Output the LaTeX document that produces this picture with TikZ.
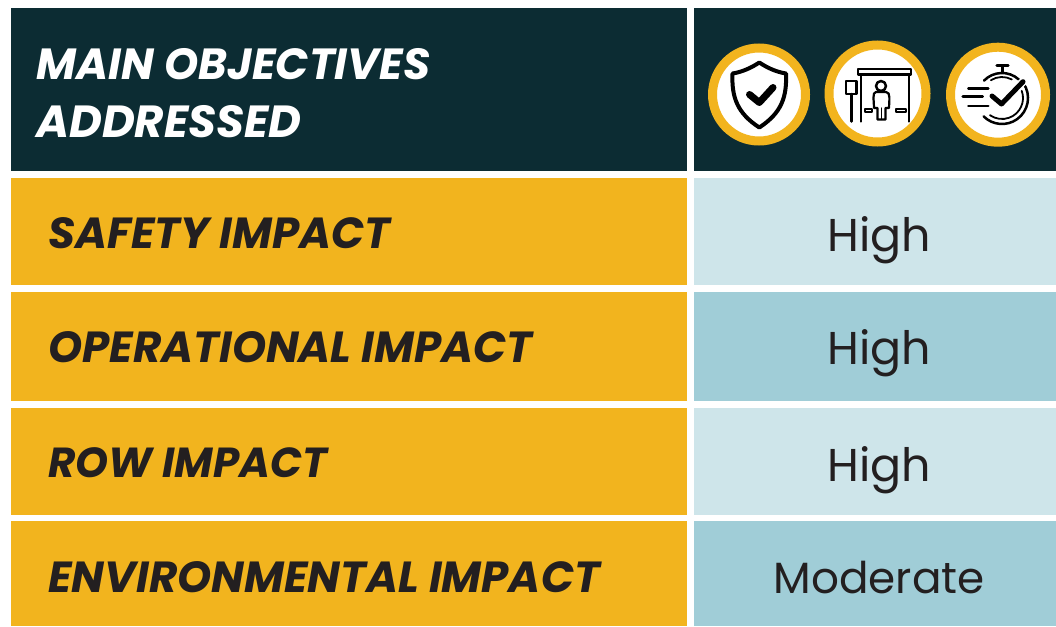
\documentclass[tikz,border=0pt]{standalone}
\usepackage{fontspec}
\setmainfont{Poppins}
\definecolor{navy}{HTML}{0C2C33}
\definecolor{gold}{HTML}{F2B41E}
\definecolor{paleblue}{HTML}{CEE5EA}
\definecolor{midblue}{HTML}{A0CDD7}
\definecolor{ink}{HTML}{231F20}
\tikzset{
  cell/.style={inner sep=0pt,outer sep=0pt,anchor=north west},
  headtext/.style={text=white,font=\fontsize{43.6}{58}\selectfont\bfseries\itshape,align=left,anchor=west,inner sep=0pt},
  rowtext/.style={text=ink,font=\fontsize{43.5}{44}\selectfont\bfseries\itshape,anchor=west,inner sep=0pt},
  valtext/.style={text=ink,font=\fontsize{46}{46}\selectfont,anchor=center,inner sep=0pt},
  ring/.style={circle,draw=gold,fill=white,line width=9pt,inner sep=0pt},
  ico/.style={draw=black,line width=2.5pt,line cap=round,line join=round},
}
\begin{document}
\begin{tikzpicture}[x=1pt,y=-1pt]
\useasboundingbox (0,0) rectangle (1056,626);
\fill[white] (0,0) rectangle (1056,626);
\node[cell,fill=navy,minimum width=676pt,minimum height=163pt] (hl) at (11,8) {};
\node[cell,fill=navy,minimum width=362pt,minimum height=163pt] (hr) at (694,8) {};
\node[cell,fill=gold,minimum width=676pt,minimum height=107pt] (a1) at (11,178) {};
\node[cell,fill=gold,minimum width=676pt,minimum height=109pt] (a2) at (11,292) {};
\node[cell,fill=gold,minimum width=676pt,minimum height=107pt] (a3) at (11,408) {};
\node[cell,fill=gold,minimum width=676pt,minimum height=105pt] (a4) at (11,521) {};
\node[cell,fill=paleblue,minimum width=362pt,minimum height=107pt] (b1) at (694,178) {};
\node[cell,fill=midblue,minimum width=362pt,minimum height=109pt] (b2) at (694,292) {};
\node[cell,fill=paleblue,minimum width=362pt,minimum height=107pt] (b3) at (694,408) {};
\node[cell,fill=midblue,minimum width=362pt,minimum height=105pt] (b4) at (694,521) {};
\node[headtext] (t0a) at (36,64) {MAIN OBJECTIVES};
\node[headtext,font=\fontsize{45}{58}\selectfont\bfseries\itshape] (t0b) at (36,122) {ADDRESSED};
\node[rowtext] (t1) at (48,233) {SAFETY IMPACT};
\node[rowtext] (t2) at (48,347) {OPERATIONAL IMPACT};
\node[rowtext,font=\fontsize{42}{44}\selectfont\bfseries\itshape] (t3) at (48,463) {ROW IMPACT};
\node[rowtext] (t4) at (48,577) {ENVIRONMENTAL IMPACT};
\node[valtext] (v1) at (879,240) {High};
\node[valtext] (v2) at (879,353) {High};
\node[valtext] (v3) at (879,470) {High};
\node[valtext,font=\fontsize{43.7}{44}\selectfont] (v4) at (879,578) {Moderate};
\node[ring,minimum size=93pt] (c1) at (759,94.5) {};
\node[ring,minimum size=97pt] (c2) at (877.5,93.5) {};
\node[ring,minimum size=95pt] (c3) at (998,94.7) {};
% shield
\draw[ico,line width=4pt] (759.3,62.5) .. controls (751,68) and (742,72) .. (732.5,73.5) .. controls (731.5,97) and (737,113) .. (759.3,127.5) .. controls (781.5,113) and (787,97) .. (786,73.5) .. controls (776.5,72) and (767.5,68) .. (759.3,62.5) -- cycle;
\draw[ico,line width=7pt] (749.5,94.5) -- (759.3,102.5) -- (773,87.5);
% shelter
\draw[ico] (858,69) rectangle (911,74.5);
\draw[ico] (861,75) -- (861,121.5) (909,75) -- (909,121.5);
\draw[ico] (846,81) rectangle (856.5,94);
\draw[ico] (851.3,94) -- (851.3,121.5);
\draw[ico] (881,86) circle (5pt);
\draw[ico,line width=2.2pt] (876,92) .. controls (872,92) and (874,101) .. (874,108) -- (877.5,108) -- (877.5,119.5) -- (885.5,119.5) -- (885.5,108) -- (889,108) .. controls (889,101) and (891,92) .. (886,92) -- cycle;
\draw[ico,line width=1.4pt] (881.5,108) -- (881.5,119.5);
\draw[ico,line width=2pt] (864.5,108.5) rectangle (872,112);
\draw[ico,line width=2pt] (895.5,108.5) rectangle (906,112);
% stopwatch
\draw[ico] (996.7,65.7) -- (1008.3,65.7) (1002.3,65.7) -- (1002.3,72);
\coordinate (w) at (1002,98);
\draw[ico] ([shift={(136:25pt)}]w) arc (136:48:25pt);
\draw[ico,line width=1.8pt] ([shift={(122:21pt)}]w) arc (122:62:21pt);
\draw[ico] ([shift={(35:26pt)}]w) arc (35:-135:26pt);
\draw[ico,line width=1.8pt] ([shift={(20:21pt)}]w) arc (20:-125:21pt);
\draw[ico] (968.3,88.3) -- (988.3,88.3) (962.7,96.7) -- (982.7,96.7) (968.3,106) -- (988.3,106);
\draw[draw=white,line width=8pt,line cap=round,line join=round] (992,96) -- (1001.5,104) -- (1023,81.7);
\draw[ico,line width=5pt] (992,96) -- (1001.5,104) -- (1023,81.7);
\end{tikzpicture}
\end{document}
